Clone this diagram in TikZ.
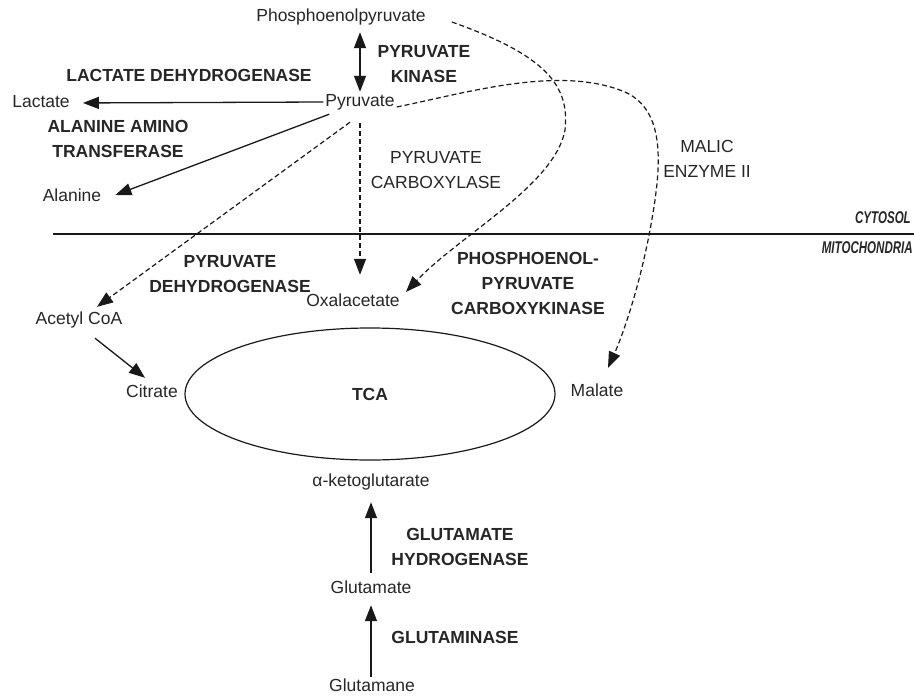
\documentclass[tikz,border=0pt]{standalone}
\usepackage{fontspec}
\setmainfont{Liberation Sans}
\usepackage{graphicx}
\usetikzlibrary{arrows.meta,shapes.geometric}
\definecolor{txt}{gray}{0.15}
\definecolor{ln}{gray}{0.1}
\newcommand\metfont{\fontsize{17.5}{25}\selectfont}
\newcommand\enzfont{\fontsize{17.5}{25}\selectfont\bfseries}
\tikzset{
  met/.style={font=\metfont, text=txt, inner sep=2pt, text height=12.5pt, text depth=3.5pt},
  enz/.style={font=\enzfont, text=txt, align=center, inner sep=2pt},
  enzr/.style={font=\metfont, text=txt, align=center, inner sep=2pt},
  arr/.style={-{Triangle[length=16pt,width=12pt]}, line width=1.3pt, draw=ln},
  dbl/.style={{Triangle[length=16pt,width=12pt]}-{Triangle[length=16pt,width=12pt]}, line width=1.3pt, draw=ln},
  dsh/.style={arr, line width=1.2pt, dash pattern=on 5pt off 3pt},
  region/.style={font=\fontsize{17}{19}\selectfont\bfseries\itshape, text=txt, inner sep=0pt},
}
\begin{document}
\begin{tikzpicture}[x=1pt,y=-1pt]
\useasboundingbox (0,0) rectangle (914,699);
% metabolites
\node[met] (pep) at (341,17) {Phosphoenolpyruvate};
\node[met] (pyr) at (360,102) {Pyruvate};
\node[met] (lac) at (41,103) {Lactate};
\node[met] (ala) at (72,197) {Alanine};
\node[met] (acoa) at (79,320) {Acetyl CoA};
\node[met] (oaa) at (353,302) {Oxalacetate};
\node[met] (cit) at (152,393) {Citrate};
\node[met] (mal) at (597,392) {Malate};
\node[met] (akg) at (371,482) {α-ketoglutarate};
\node[met] (glu) at (371,589) {Glutamate};
\node[met] (gln) at (372,687) {Glutamane};
\node[ellipse, draw=ln, line width=1.2pt, minimum width=370pt, minimum height=132pt, inner sep=0pt,
      font=\enzfont, text=txt] (tca) at (370,394) {TCA};
% enzymes
\node[enz] (pk) at (424,64) {PYRUVATE\\KINASE};
\node[enz] (ldh) at (189,75) {LACTATE DEHYDROGENASE};
\node[enz] (alt) at (118,139) {ALANINE AMINO\\TRANSFERASE};
\node[enzr] (pc) at (436,170) {PYRUVATE\\CARBOXYLASE};
\node[enzr] (me) at (707,159) {MALIC\\ENZYME II};
\node[enz] (pdh) at (230,274) {PYRUVATE\\DEHYDROGENASE};
\node[enz] (pepck) at (528,283) {PHOSPHOENOL-\\PYRUVATE\\CARBOXYKINASE};
\node[enz] (gdh) at (460,547) {GLUTAMATE\\HYDROGENASE};
\node[enz] (gls) at (455,637) {GLUTAMINASE};
% compartments
\coordinate (divL) at (53,234);
\coordinate (divR) at (914,234);
\draw[ln, line width=1.2pt] (divL) -- (divR);
\node[region, anchor=east] (cyt) at (911,218) {\scalebox{0.68}[1]{CYTOSOL}};
\node[region, anchor=east] (mito) at (913,248) {\scalebox{0.68}[1]{MITOCHONDRIA}};
% connectors
\draw[dbl] ([yshift=-5pt]pyr.north |- pep.south) -- (pyr.north);
\draw[arr, shorten >=11pt] (pyr.west) -- (lac.east);
\draw[arr] ([xshift=6pt,yshift=-2pt]pyr.south west) -- ([xshift=12pt,yshift=2pt]ala.east);
\draw[dsh] ([xshift=-10pt,yshift=-10pt]pyr.south) -- ([xshift=18pt,yshift=3pt]acoa.north);
\draw[dsh, shorten <=11pt, shorten >=17pt] (pyr.south) -- (pyr.south |- oaa.north);
\draw[dsh] ([xshift=24pt,yshift=-5pt]pep.east) .. controls (545,55) and (570,85) .. (565,130)
   .. controls (555,185) and (460,235) .. ([xshift=4pt,yshift=10pt]oaa.east);
\draw[dsh] ([yshift=-5pt]pyr.east) .. controls (470,92) and (560,65) .. (625,92)
   .. controls (660,108) and (662,150) .. (655,200)
   .. controls (645,270) and (625,330) .. ([xshift=11pt,yshift=14pt]mal.north);
\draw[arr] ([xshift=16pt,yshift=-8pt]acoa.south) -- ([xshift=-7pt,yshift=5pt]cit.north);
\draw[arr, shorten <=6pt, shorten >=10pt] (glu.north) -- (akg.south);
\draw[arr, shorten >=6pt] (glu.south |- gln.north) -- (glu.south);
\end{tikzpicture}
\end{document}
